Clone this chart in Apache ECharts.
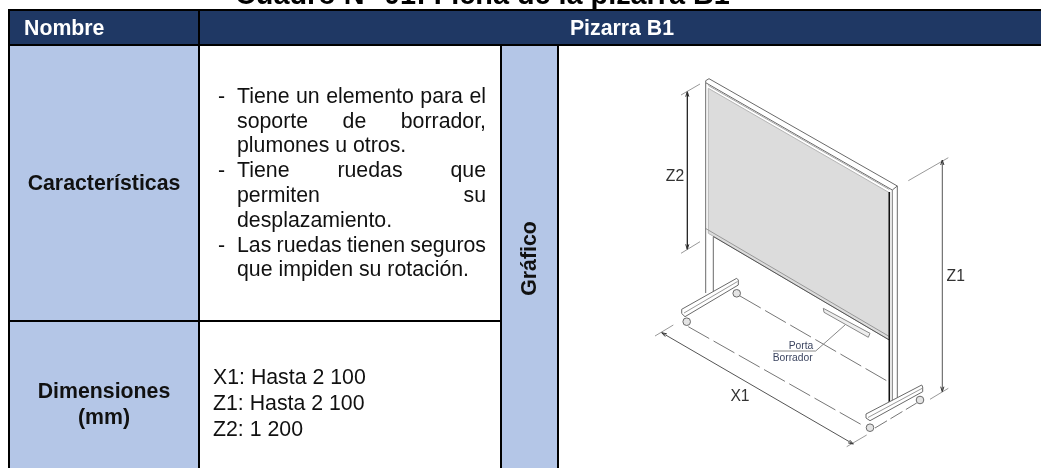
<!DOCTYPE html>
<html>
<head>
<meta charset="utf-8">
<script src="https://cdn.jsdelivr.net/npm/echarts@6/dist/echarts.min.js"></script>
<style>
html, body { margin: 0; padding: 0; background: #fff; }
#main { width: 1041px; height: 468px; }
</style>
</head>
<body>
<div id="main"></div>
<script>
const titulo = 'Cuadro N° 01: Ficha de la pizarra B1';
const encabezados = ['Nombre', 'Pizarra B1'];
const filas = ['Características', 'Dimensiones', '(mm)'];
const lateral = 'Gráfico';
// [guion, texto, justificada]
const caracteristicas = [
    ['-', 'Tiene un elemento para el', true],
    ['', 'soporte de borrador,', true],
    ['', 'plumones u otros.', false],
    ['-', 'Tiene ruedas que', true],
    ['', 'permiten su', true],
    ['', 'desplazamiento.', false],
    ['-', 'Las ruedas tienen seguros', true],
    ['', 'que impiden su rotación.', false]
];
const dimensiones = ['X1: Hasta 2 100', 'Z1: Hasta 2 100', 'Z2: 1 200'];
const cotas = ['Z2', 'Z1', 'X1'];
const notaBorrador = ['Porta', 'Borrador'];

const FONT = '"Liberation Sans", Arial, sans-serif';
const NAVY = '#1F3864';
const BLUE = '#B4C6E7';
const LINE = '#6a6a6a';

const myChart = echarts.init(document.getElementById('main'));
const elements = [];

const measure = document.createElement('canvas').getContext('2d');

const box = (x, y, width, height, fill) => {
    elements.push({ type: 'rect', silent: true, shape: { x, y, width, height }, style: { fill } });
};

const label = (text, x, y, opts = {}) => {
    elements.push({
        type: 'text',
        silent: true,
        x,
        y,
        rotation: opts.rotation || 0,
        style: {
            text,
            fill: opts.color || '#111',
            font: `${opts.bold ? 'bold ' : ''}${opts.size || 21.3}px ${FONT}`,
            align: opts.align || 'left',
            verticalAlign: opts.valign || 'middle'
        }
    });
};

const stroke = (points, opts = {}) => {
    elements.push({
        type: 'polyline',
        silent: true,
        shape: { points },
        style: {
            stroke: opts.color || LINE,
            lineWidth: opts.width || 1,
            lineDash: opts.dash || null,
            fill: null
        }
    });
};

const shape = (points, fill, line = LINE) => {
    elements.push({
        type: 'polygon',
        silent: true,
        shape: { points },
        style: { fill, stroke: line, lineWidth: 1 }
    });
};

const wheel = (cx, cy) => {
    elements.push({
        type: 'circle',
        silent: true,
        shape: { cx, cy, r: 3.8 },
        style: { fill: '#e4e4e4', stroke: LINE, lineWidth: 1 }
    });
};

// punta de flecha de cota, (ux, uy) apunta hacia el extremo
const arrow = (x, y, ux, uy) => {
    const len = 5;
    const side = 1.6;
    stroke([
        [x - ux * len - uy * side, y - uy * len + ux * side],
        [x, y],
        [x - ux * len + uy * side, y - uy * len - ux * side]
    ], { color: '#333' });
};

// justifica una linea repartiendo el espacio entre palabras
const justified = (text, left, right, y) => {
    const words = text.split(' ');
    measure.font = `21.3px ${FONT}`;
    const total = words.reduce((sum, w) => sum + measure.measureText(w).width, 0);
    const gap = (right - left - total) / (words.length - 1);
    let x = left;
    words.forEach((w) => {
        label(w, x, y);
        x += measure.measureText(w).width + gap;
    });
};

// tabla
label(titulo, 235, 10.5, { bold: true, size: 28.8, valign: 'bottom', color: '#000' });
box(8, 9, 1033, 37, '#000');
box(10, 11, 188, 33, NAVY);
box(200, 11, 841, 33, NAVY);
box(8, 46, 2, 422, '#000');
box(10, 46, 188, 422, BLUE);
box(198, 46, 2, 422, '#000');
box(500, 46, 2, 422, '#000');
box(502, 46, 55, 422, BLUE);
box(557, 46, 2, 422, '#000');
box(8, 320, 492, 2, '#000');

label(encabezados[0], 24, 29, { bold: true, color: '#fff' });
label(encabezados[1], 622, 29, { bold: true, color: '#fff', align: 'center' });
label(filas[0], 104, 184, { bold: true, align: 'center' });
label(filas[1], 104, 392, { bold: true, align: 'center' });
label(filas[2], 104, 418, { bold: true, align: 'center' });
label(lateral, 530, 258.5, { bold: true, align: 'center', rotation: Math.PI / 2 });

caracteristicas.forEach((row, i) => {
    const y = 97 + i * 24.8;
    if (row[0]) label(row[0], 218, y);
    if (row[2]) justified(row[1], 237, 486, y);
    else label(row[1], 237, y);
});

dimensiones.forEach((text, i) => label(text, 213, 378 + i * 26));

// pizarra: plano
shape([[708.3, 88.3], [889.3, 192.7], [889.3, 340], [708.3, 233.3]], '#dcdcdc', '#b5b5b5');

// marco
stroke([[705.7, 80.7], [709, 78.7], [897.3, 186], [892.3, 190], [705.7, 82.7], [705.7, 80.7]]);
stroke([[708.3, 85.5], [889.3, 189.5]], { color: '#aaa' });
stroke([[705.7, 228.5], [889.3, 336.5]], { color: '#999' });
stroke([[713.3, 236.5], [889.3, 340]], { color: '#555' });

// patas
stroke([[705.7, 82.7], [705.7, 293]]);
stroke([[713.3, 237], [713.3, 292]]);
stroke([[889.3, 192], [889.3, 402]], { color: '#111', width: 1.6 });
stroke([[892.3, 190], [892.3, 402]], { color: '#777' });
stroke([[897.3, 186], [897.3, 399]]);

// bases y ruedas
wheel(736.7, 293.3);
shape([[681.7, 309.3], [736.7, 278.3], [738.3, 280], [738.3, 285], [685, 316.7], [681.7, 313.5]], '#fff');
stroke([[684, 313], [737.5, 281.5]], { color: '#999' });
wheel(686.7, 321.7);
wheel(920, 400);
shape([[866, 414], [921.7, 385], [922.7, 387], [922.7, 391.7], [870, 420.7], [866, 418]], '#fff');
stroke([[868, 417.5], [922.2, 388.3]], { color: '#999' });
wheel(870, 427.7);

// lineas de piso
stroke([[740, 296], [888.3, 381.7]], { dash: [24, 5], color: '#777' });
stroke([[688.3, 326.7], [863.3, 425.7]], { dash: [24, 5], color: '#777' });
stroke([[875, 428], [916.7, 403]], { dash: [14, 4], color: '#777' });

// porta borrador
shape([[823.3, 308.3], [870, 333.3], [868.3, 337.3], [824, 312.3]], '#eee', '#888');
stroke([[773, 351], [815.7, 351], [845, 325]], { color: '#888' });
label(notaBorrador[0], 801, 346, { size: 10.3, align: 'center', color: '#3c4560' });
label(notaBorrador[1], 792.7, 357.7, { size: 10.3, align: 'center', color: '#3c4560' });

// cotas
stroke([[687.3, 91.7], [687.3, 249.3]], { color: '#111', width: 1.2 });
stroke([[681, 95], [700, 84]], { color: '#999' });
stroke([[681, 253.3], [700, 241.7]], { color: '#999' });
arrow(687.3, 91.7, 0, -1);
arrow(687.3, 249.3, 0, 1);
stroke([[942.3, 160], [942.3, 391.7]], { color: '#555' });
stroke([[908.3, 180.7], [948.3, 157.7]], { color: '#999' });
stroke([[930, 399.3], [948.3, 388.3]], { color: '#999' });
arrow(942.3, 160, 0, -1);
arrow(942.3, 391.7, 0, 1);
stroke([[661.7, 332.7], [853.3, 444]], { color: '#555' });
stroke([[655, 336], [673.3, 325]], { color: '#999' });
stroke([[846.7, 446.7], [866.7, 435]], { color: '#999' });
arrow(661.7, 332.7, -0.865, -0.5);
arrow(853.3, 444, 0.865, 0.5);

label(cotas[0], 675, 176.7, { size: 15.7, align: 'center', color: '#333' });
label(cotas[1], 955.7, 276.7, { size: 15.7, align: 'center', color: '#333' });
label(cotas[2], 740, 396.7, { size: 15.7, align: 'center', color: '#333' });

myChart.setOption({
    backgroundColor: '#fff',
    animation: false,
    graphic: { elements }
});
</script>
</body>
</html>
